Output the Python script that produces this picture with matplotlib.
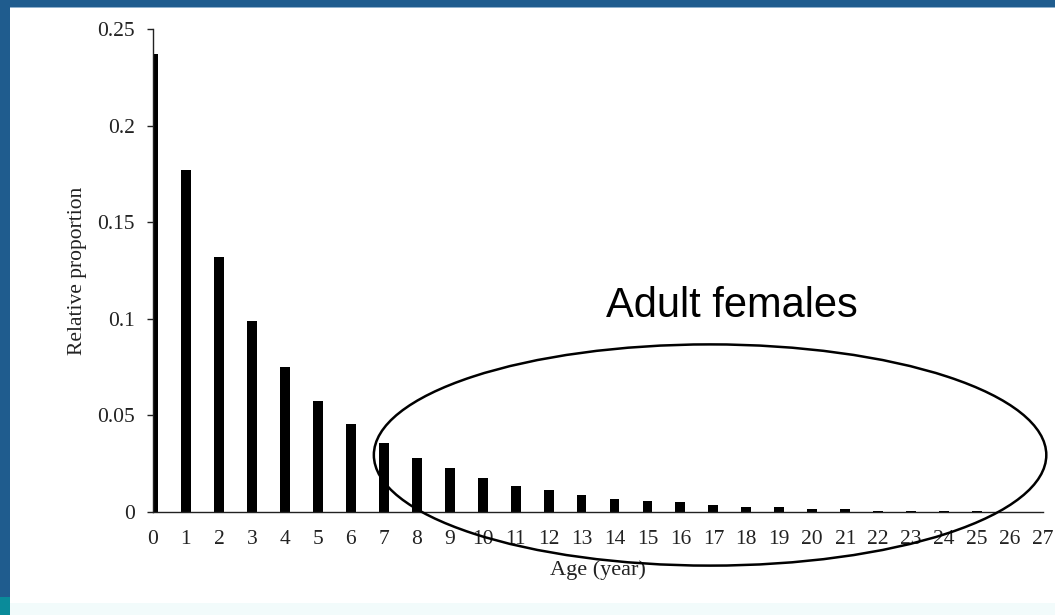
import numpy as np
import matplotlib.pyplot as plt
from matplotlib import font_manager
from matplotlib.patches import Ellipse, Rectangle

# age classes and relative proportion
ages = list(range(28))
proportion = [0.237, 0.177, 0.132, 0.0987, 0.0748, 0.0577, 0.0456, 0.0359,
              0.0280, 0.0226, 0.0178, 0.0136, 0.0116, 0.0088, 0.0066, 0.0059,
              0.0050, 0.0037, 0.0027, 0.0027, 0.0018, 0.0018, 0.0007, 0.0007,
              0.0007, 0.0007, 0.0, 0.0]
y_ticks = [0, 0.05, 0.1, 0.15, 0.2, 0.25]
y_tick_labels = ['0', '0.05', '0.1', '0.15', '0.2', '0.25']

serif = ['Liberation Serif', 'DejaVu Serif']

# the callout uses a narrow sans if one is around
installed = {f.name for f in font_manager.fontManager.ttflist}
if 'Liberation Sans Narrow' in installed:
    callout_font, callout_size = ['Liberation Sans Narrow'], 35
else:
    callout_font, callout_size = ['Liberation Sans', 'DejaVu Sans'], 30

fig = plt.figure(figsize=(10.55, 6.15), dpi=100)
fig.patch.set_facecolor('white')

# slide frame: blue band on top and left, teal block bottom-left, pale strip at bottom
fig.add_artist(Rectangle((0, 0), 1, 12 / 615, transform=fig.transFigure,
                         facecolor='#f2fbfb', edgecolor='none', zorder=0))
fig.add_artist(Rectangle((0, 1 - 7 / 615), 1, 7 / 615, transform=fig.transFigure,
                         facecolor='#1f5c8e', edgecolor='none', zorder=1))
fig.add_artist(Rectangle((0, 1 - 8 / 615), 1, 1 / 615, transform=fig.transFigure,
                         facecolor='#8fb0cc', edgecolor='none', zorder=1))
fig.add_artist(Rectangle((0, 18 / 615), 10 / 1055, 1 - 18 / 615, transform=fig.transFigure,
                         facecolor='#1f5c8e', edgecolor='none', zorder=1))
fig.add_artist(Rectangle((0, 0), 10 / 1055, 18 / 615, transform=fig.transFigure,
                         facecolor='#0a8b9a', edgecolor='none', zorder=1))

ax = fig.add_axes([153 / 1055, 1 - 512 / 615, 890 / 1055, 483 / 615])
ax.set_facecolor('none')

ax.bar(ages, proportion, width=0.3, color='black', zorder=2)

ax.set_xlim(0, 27)
ax.set_ylim(0, 0.25)

for s in ['top', 'right']:
    ax.spines[s].set_visible(False)
for s in ['left', 'bottom']:
    ax.spines[s].set_color('#222222')
    ax.spines[s].set_linewidth(1.0)
    ax.spines[s].set_zorder(3)

ax.set_yticks(y_ticks)
ax.set_yticklabels(y_tick_labels, fontsize=15.5, family=serif, color='#222222')
ax.tick_params(axis='y', direction='out', length=4.3, width=1, color='#222222', pad=9)

# labels on every age, tick marks only every second one
ax.set_xticks(ages)
ax.set_xticklabels([str(a) for a in ages], fontsize=15.5, family=serif, color='#222222')
ax.tick_params(axis='x', which='major', length=0, pad=13)
ax.set_xticks(ages[::2], minor=True)
ax.tick_params(axis='x', which='minor', direction='out', length=4, width=1, color='#222222')

ax.set_ylabel('Relative proportion', fontsize=15.5, family=serif, color='#222222')
ax.yaxis.set_label_coords(-0.074, 0.5)
ax.set_xlabel('Age (year)', fontsize=16, family=serif, color='#222222')
ax.xaxis.set_label_coords(0.50, -0.099)

# annotation: ellipse around the adult classes
ell = Ellipse((16.9, 0.0295), 20.4, 0.1145, fill=False, edgecolor='black',
              linewidth=1.8, clip_on=False, zorder=4)
ax.add_patch(ell)
fig.text(732 / 1055, 1 - 306 / 615, 'Adult females', fontsize=callout_size,
         family=callout_font, ha='center', va='center', color='black')

fig.savefig('out.png', dpi=100)
